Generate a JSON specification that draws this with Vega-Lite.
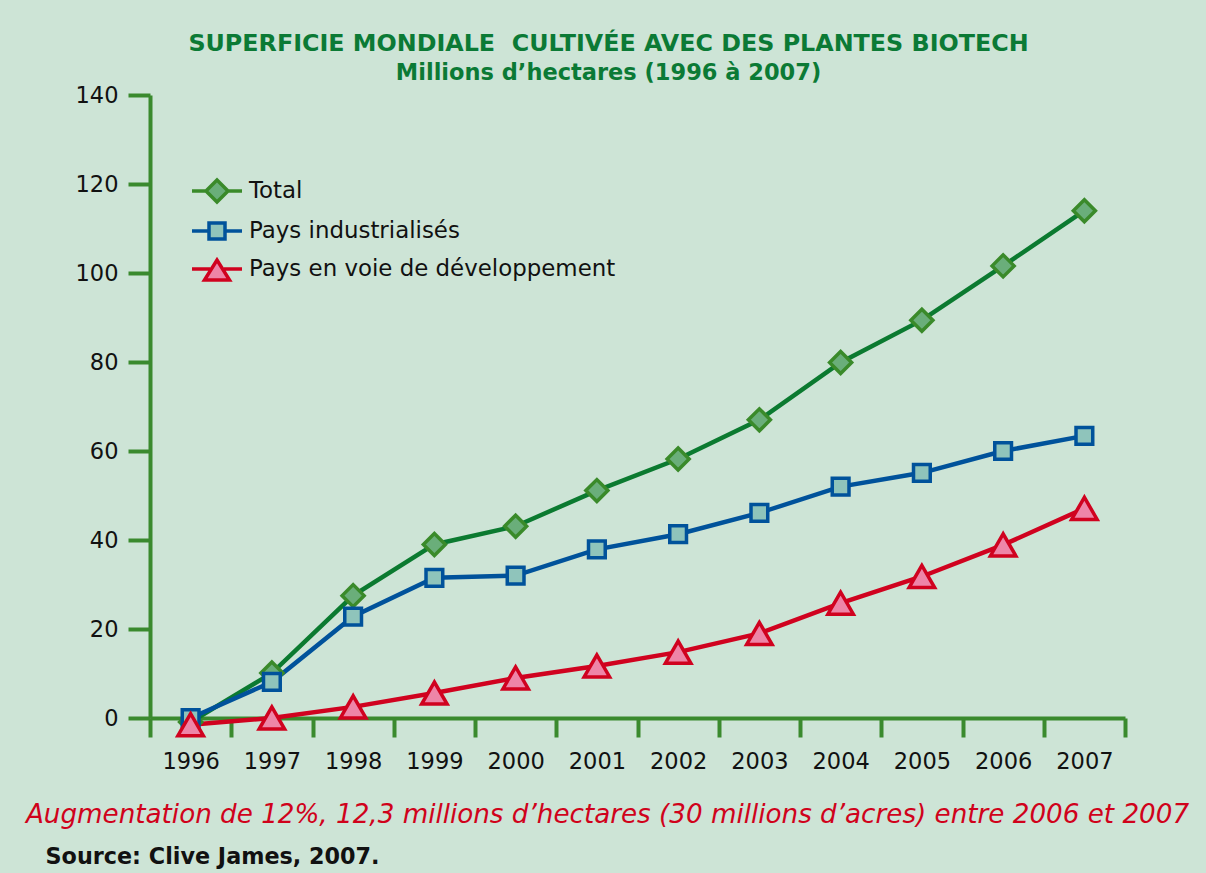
{
  "$schema": "https://vega.github.io/schema/vega-lite/v6.json",
  "width": 975,
  "height": 623,
  "autosize": {"type": "none"},
  "padding": {"left": 150, "top": 95, "right": 81, "bottom": 155},
  "background": "#cde4d6",
  "title": {
    "text": "SUPERFICIE MONDIALE\u00a0 CULTIVÉE AVEC DES PLANTES BIOTECH",
    "subtitle": "Millions d’hectares (1996 à 2007)",
    "anchor": "middle",
    "dx": -29,
    "offset": 0,
    "font": "DejaVu Sans",
    "fontSize": 23.8,
    "fontWeight": "bold",
    "color": "#0b7a35",
    "subtitleFont": "DejaVu Sans",
    "subtitleFontSize": 22.5,
    "subtitleFontWeight": "bold",
    "subtitleColor": "#0b7a35",
    "subtitlePadding": 6
  },
  "data": {
    "values": [
      {"year": 1996, "series": "Total", "value": -0.9},
      {"year": 1997, "series": "Total", "value": 10.1},
      {"year": 1998, "series": "Total", "value": 27.5},
      {"year": 1999, "series": "Total", "value": 39.0},
      {"year": 2000, "series": "Total", "value": 43.1},
      {"year": 2001, "series": "Total", "value": 51.1},
      {"year": 2002, "series": "Total", "value": 58.2},
      {"year": 2003, "series": "Total", "value": 67.0},
      {"year": 2004, "series": "Total", "value": 79.9},
      {"year": 2005, "series": "Total", "value": 89.4},
      {"year": 2006, "series": "Total", "value": 101.6},
      {"year": 2007, "series": "Total", "value": 114.0},
      {"year": 1996, "series": "Pays industrialisés", "value": 0.0},
      {"year": 1997, "series": "Pays industrialisés", "value": 8.1},
      {"year": 1998, "series": "Pays industrialisés", "value": 22.8},
      {"year": 1999, "series": "Pays industrialisés", "value": 31.5},
      {"year": 2000, "series": "Pays industrialisés", "value": 32.0},
      {"year": 2001, "series": "Pays industrialisés", "value": 37.9},
      {"year": 2002, "series": "Pays industrialisés", "value": 41.3},
      {"year": 2003, "series": "Pays industrialisés", "value": 46.1},
      {"year": 2004, "series": "Pays industrialisés", "value": 52.0},
      {"year": 2005, "series": "Pays industrialisés", "value": 55.1},
      {"year": 2006, "series": "Pays industrialisés", "value": 60.0},
      {"year": 2007, "series": "Pays industrialisés", "value": 63.4},
      {"year": 1996, "series": "Pays en voie de développement", "value": -1.5},
      {"year": 1997, "series": "Pays en voie de développement", "value": 0.0},
      {"year": 1998, "series": "Pays en voie de développement", "value": 2.5},
      {"year": 1999, "series": "Pays en voie de développement", "value": 5.6},
      {"year": 2000, "series": "Pays en voie de développement", "value": 9.0},
      {"year": 2001, "series": "Pays en voie de développement", "value": 11.7},
      {"year": 2002, "series": "Pays en voie de développement", "value": 14.8},
      {"year": 2003, "series": "Pays en voie de développement", "value": 19.0},
      {"year": 2004, "series": "Pays en voie de développement", "value": 25.8},
      {"year": 2005, "series": "Pays en voie de développement", "value": 31.8},
      {"year": 2006, "series": "Pays en voie de développement", "value": 38.9},
      {"year": 2007, "series": "Pays en voie de développement", "value": 47.1}
    ]
  },
  "encoding": {
    "x": {
      "field": "year",
      "type": "ordinal",
      "scale": {"type": "band", "paddingInner": 0, "paddingOuter": 0},
      "axis": {
        "tickBand": "extent",
        "labelAngle": 0,
        "domainColor": "#3a8a2e",
        "domainWidth": 4,
        "tickColor": "#3a8a2e",
        "tickWidth": 4,
        "tickSize": 19,
        "labelFont": "DejaVu Sans",
        "labelFontSize": 22.5,
        "labelColor": "#111111",
        "labelPadding": 13,
        "title": "Augmentation de 12%, 12,3 millions d’hectares (30 millions d’acres) entre 2006 et 2007",
        "titleFont": "DejaVu Sans",
        "titleFontSize": 26.2,
        "titleFontStyle": "italic",
        "titleFontWeight": "normal",
        "titleColor": "#d0021b",
        "titleX": 457,
        "titleY": 104,
        "titleAlign": "center",
        "titleBaseline": "alphabetic"
      }
    },
    "y": {
      "field": "value",
      "type": "quantitative",
      "scale": {"domain": [0, 140], "nice": false, "zero": false},
      "axis": {
        "values": [0, 20, 40, 60, 80, 100, 120, 140],
        "grid": false,
        "domainColor": "#3a8a2e",
        "domainWidth": 4,
        "tickColor": "#3a8a2e",
        "tickWidth": 4,
        "tickSize": 22,
        "labelFont": "DejaVu Sans",
        "labelFontSize": 22.5,
        "labelColor": "#111111",
        "labelPadding": 10,
        "title": "Source: Clive James, 2007.",
        "titleAngle": 0,
        "titleAlign": "left",
        "titleBaseline": "alphabetic",
        "titleX": -105,
        "titleY": 768,
        "titleFont": "DejaVu Sans",
        "titleFontSize": 22.3,
        "titleFontWeight": "bold",
        "titleColor": "#111111"
      }
    }
  },
  "layer": [
    {
      "mark": {"type": "line", "strokeWidth": 4.5},
      "encoding": {
        "color": {
          "field": "series",
          "type": "nominal",
          "scale": {
            "domain": ["Pays industrialisés", "Total", "Pays en voie de développement"],
            "range": ["#00529b", "#0b7a30", "#d0021f"]
          },
          "legend": null
        }
      }
    },
    {
      "mark": {"type": "point", "filled": true, "opacity": 1, "strokeWidth": 3.5},
      "encoding": {
        "shape": {
          "field": "series",
          "type": "nominal",
          "scale": {
            "domain": ["Pays industrialisés", "Total", "Pays en voie de développement"],
            "range": ["square", "diamond", "triangle-up"]
          },
          "legend": null
        },
        "fill": {
          "field": "series",
          "type": "nominal",
          "scale": {
            "domain": ["Total", "Pays industrialisés", "Pays en voie de développement"],
            "range": ["#6aae7a", "#8fc4bb", "#ee85a8"]
          },
          "legend": {
            "title": null,
            "orient": "none",
            "legendX": 55,
            "legendY": 84,
            "labelFont": "DejaVu Sans",
            "labelFontSize": 22.9,
            "labelColor": "#111111",
            "labelLimit": 600,
            "symbolSize": 400,
            "symbolStrokeWidth": 3.5,
            "symbolOpacity": 1,
            "rowPadding": 7,
            "labelOffset": 20,
            "encode": {
              "symbols": {
                "update": {
                  "shape": {
                    "signal": "datum.value == 'Total' ? 'M-2.5,0H-1.1M0,-1.1L1.1,0L0,1.1L-1.1,0ZM1.1,0H2.5' : (datum.value == 'Pays industrialisés' ? 'M-2.5,0H-0.8M-0.8,-0.8H0.8V0.8H-0.8ZM0.8,0H2.5' : 'M-2.5,0H-0.69M0.69,0H2.5M-1.25,1.1L1.25,1.1L0,-0.9Z')"
                  },
                  "size": {"value": 400},
                  "strokeWidth": {"value": 3.5},
                  "opacity": {"value": 1}
                }
              }
            }
          }
        },
        "stroke": {
          "field": "series",
          "type": "nominal",
          "scale": {
            "domain": ["Total", "Pays industrialisés", "Pays en voie de développement"],
            "range": ["#3a8a2a", "#00529b", "#d0021f"]
          },
          "legend": {"title": null}
        },
        "size": {
          "field": "series",
          "type": "nominal",
          "scale": {
            "type": "ordinal",
            "domain": ["Pays industrialisés", "Total", "Pays en voie de développement"],
            "range": [280, 484, 650]
          },
          "legend": null
        }
      }
    }
  ],
  "config": {
    "view": {"stroke": null}
  }
}
